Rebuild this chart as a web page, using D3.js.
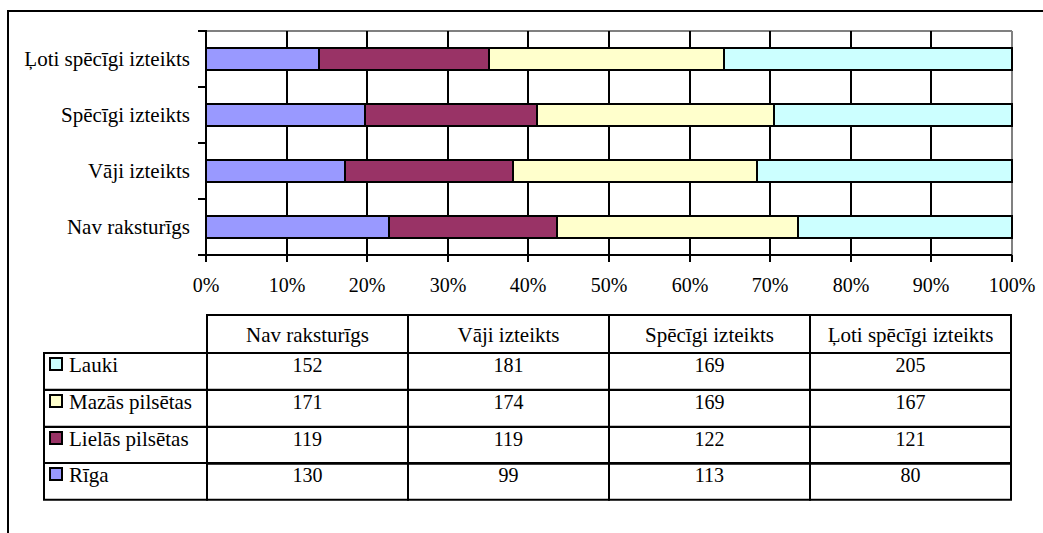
<!DOCTYPE html>
<html>
<head>
<meta charset="utf-8">
<script src="https://cdn.jsdelivr.net/npm/d3@7"></script>
<style>
  html, body { margin: 0; padding: 0; background: #fff; }
  svg text { font-family: "Liberation Serif", "Times New Roman", "DejaVu Serif", serif !important; fill: #000; }
</style>
</head>
<body>
<svg id="chart" width="1043" height="533"></svg>
<script>
// Categories as they appear in the data table (left to right)
const categories = ["Nav raksturīgs", "Vāji izteikts", "Spēcīgi izteikts", "Ļoti spēcīgi izteikts"];
// Series in stacking order (left to right in the bars)
const seriesNames = ["Rīga", "Lielās pilsētas", "Mazās pilsētas", "Lauki"];
const seriesColors = ["#9999FF", "#993366", "#FFFFCC", "#CCFFFF"];
// Counts per series, one per category above
const riga = [130, 99, 113, 80];
const lielas = [119, 119, 122, 121];
const mazas = [171, 174, 169, 167];
const lauki = [152, 181, 169, 205];
const xTicks = [0, 0.1, 0.2, 0.3, 0.4, 0.5, 0.6, 0.7, 0.8, 0.9, 1];
// Table rows are listed top-down in reverse stacking order
const tableOrder = [3, 2, 1, 0];

const seriesValues = [riga, lielas, mazas, lauki];

const svg = d3.select("#chart");
const FONT = 20;       // numbers
const FONT_TXT = 21;   // word labels

// Outer chart frame (runs off the right and bottom edges)
svg.append("rect")
  .attr("x", 8).attr("y", 11).attr("width", 1100).attr("height", 600)
  .attr("fill", "none").attr("stroke", "#000").attr("stroke-width", 2);

const plot = { left: 206, right: 1012, top: 31, bottom: 255 };

const x = d3.scaleLinear().domain([0, 1]).range([plot.left, plot.right]);
const xr = v => Math.round(x(v));
// Bars are drawn top-down in reverse category order
const barOrder = categories.slice().reverse();
const y = d3.scaleBand().domain(barOrder).range([plot.top, plot.bottom])
  .paddingInner(0.6).paddingOuter(0.3);
const step = y.step();

// Build proportional stacks
const rows = categories.map((c, i) => {
  const o = { cat: c };
  seriesNames.forEach((s, j) => { o[s] = seriesValues[j][i]; });
  return o;
});
const stack = d3.stack().keys(seriesNames).offset(d3.stackOffsetExpand);
const stacked = stack(rows);

// Plot area border (grey top and right)
svg.append("line").attr("x1", plot.left).attr("x2", plot.right)
  .attr("y1", plot.top).attr("y2", plot.top)
  .attr("stroke", "#808080").attr("stroke-width", 2);

// Vertical gridlines
svg.append("g").selectAll("line").data(xTicks.slice(1)).join("line")
  .attr("x1", d => xr(d)).attr("x2", d => xr(d))
  .attr("y1", plot.top).attr("y2", plot.bottom)
  .attr("stroke", d => d === 1 ? "#808080" : "#000")
  .attr("stroke-width", 2);

// Bars
svg.append("g").selectAll("g").data(stacked).join("g")
  .attr("fill", (d, i) => seriesColors[i])
  .selectAll("rect").data(d => d).join("rect")
  .attr("x", d => xr(d[0]))
  .attr("width", d => xr(d[1]) - xr(d[0]))
  .attr("y", d => Math.round(y(d.data.cat)))
  .attr("height", Math.round(y.bandwidth()))
  .attr("stroke", "#000").attr("stroke-width", 2);

// X axis
const xAxis = svg.append("g")
  .attr("transform", `translate(0,${plot.bottom})`)
  .call(d3.axisBottom(x).tickValues(xTicks).tickFormat(d3.format(".0%")).tickSize(7).tickPadding(16));
xAxis.attr("font-family", null).attr("font-size", FONT);
xAxis.select(".domain").attr("stroke", "#000").attr("stroke-width", 2)
  .attr("d", `M${plot.left},0H${plot.right}`);
xAxis.selectAll(".tick").attr("transform", d => `translate(${xr(d)},0)`);
xAxis.selectAll(".tick line").attr("stroke", "#000").attr("stroke-width", 2);
xAxis.selectAll(".tick text").attr("font-size", FONT).attr("fill", "#000");

// Y axis: labels at band centres, ticks at band boundaries
svg.append("line").attr("x1", plot.left).attr("x2", plot.left)
  .attr("y1", plot.top - 1).attr("y2", plot.bottom + 7)
  .attr("stroke", "#000").attr("stroke-width", 2);
const boundaries = d3.range(barOrder.length + 1).map(i => Math.round(plot.top + i * step));
svg.append("g").selectAll("line").data(boundaries).join("line")
  .attr("x1", plot.left - 8).attr("x2", plot.left)
  .attr("y1", d => d).attr("y2", d => d)
  .attr("stroke", "#000").attr("stroke-width", 2);
svg.append("g").selectAll("text").data(barOrder).join("text")
  .attr("x", 190)
  .attr("y", d => y(d) + y.bandwidth() / 2)
  .attr("dy", "0.33em")
  .attr("text-anchor", "end")
  .attr("font-size", FONT_TXT)
  .text(d => d);

// Data table
const table = { left: 44, colStart: 207, top: 315, headerH: 38, rowH: 36.75 };
const colX = d3.scaleBand().domain(categories).range([table.colStart, 1011]);
const tbl = svg.append("g");

// Header row
tbl.selectAll("rect.h").data(categories).join("rect").attr("class", "h")
  .attr("x", d => Math.round(colX(d))).attr("y", table.top)
  .attr("width", colX.bandwidth()).attr("height", table.headerH)
  .attr("fill", "#fff").attr("stroke", "#000").attr("stroke-width", 2);
tbl.selectAll("text.h").data(categories).join("text").attr("class", "h")
  .attr("x", d => colX(d) + colX.bandwidth() / 2)
  .attr("y", table.top + 27)
  .attr("text-anchor", "middle").attr("font-size", FONT_TXT)
  .text(d => d);

// Body rows
const bodyTop = table.top + table.headerH;
tableOrder.forEach((si, r) => {
  const ry = Math.round(bodyTop + r * table.rowH);
  tbl.append("rect")
    .attr("x", table.left).attr("y", ry)
    .attr("width", table.colStart - table.left).attr("height", table.rowH)
    .attr("fill", "#fff").attr("stroke", "#000").attr("stroke-width", 2);
  tbl.append("rect")
    .attr("x", table.left + 6).attr("y", ry + 5)
    .attr("width", 12).attr("height", 12)
    .attr("fill", seriesColors[si]).attr("stroke", "#000").attr("stroke-width", 2);
  tbl.append("text")
    .attr("x", table.left + 25).attr("y", ry + 19)
    .attr("font-size", FONT_TXT).text(seriesNames[si]);
  categories.forEach((c, ci) => {
    tbl.append("rect")
      .attr("x", Math.round(colX(c))).attr("y", ry)
      .attr("width", colX.bandwidth()).attr("height", table.rowH)
      .attr("fill", "none").attr("stroke", "#000").attr("stroke-width", 2);
    tbl.append("text")
      .attr("x", colX(c) + colX.bandwidth() / 2).attr("y", ry + 19)
      .attr("text-anchor", "middle").attr("font-size", FONT)
      .text(seriesValues[si][ci]);
  });
});
</script>
</body>
</html>
